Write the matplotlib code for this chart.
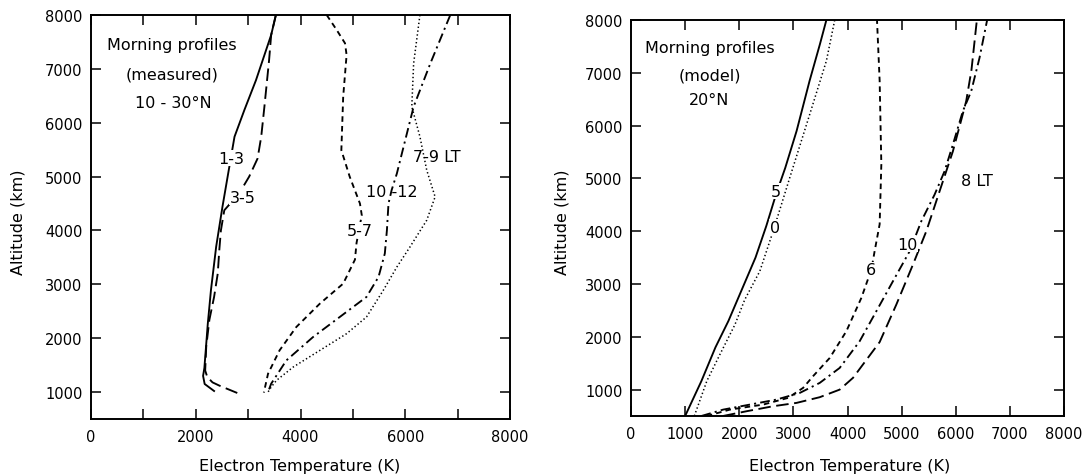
import matplotlib
matplotlib.use("Agg")
import matplotlib.pyplot as plt

plt.rcParams['font.family'] = ['DejaVu Sans']
plt.rcParams['lines.scale_dashes'] = False

# ---------------- Left panel: measured profiles (10-30N) ----------------
alt_13 = [8000, 7630, 6790, 6240, 5740, 5120, 4440, 3700, 2890, 2270, 1450, 1300, 1150, 1020]
te_13 = [3530, 3440, 3150, 2930, 2740, 2630, 2510, 2390, 2290, 2230, 2165, 2140, 2170, 2350]

alt_35 = [8000, 7630, 7160, 6290, 5740, 5335, 5000, 4690, 4375, 4000, 3640, 3200, 2765, 2340,
          1840, 1400, 1280, 1180, 1120, 980]
te_35 = [3530, 3440, 3400, 3310, 3250, 3180, 3020, 2830, 2545, 2480, 2450, 2420, 2350, 2260,
         2200, 2180, 2220, 2320, 2450, 2800]

alt_57 = [8000, 7724, 7475, 7258, 6483, 5490, 4997, 4500, 4283, 3768, 3459, 3013, 2642, 2208,
          1774, 1340, 990]
te_57 = [4500, 4690, 4850, 4880, 4815, 4780, 4940, 5135, 5170, 5070, 5040, 4815, 4370, 3920,
         3600, 3380, 3300]

alt_1012 = [8000, 7103, 6298, 5679, 5058, 4749, 4500, 4006, 3572, 3138, 2766, 2394, 2022, 1588,
            1155, 1000]
te_1012 = [6860, 6480, 6160, 6000, 5840, 5740, 5680, 5650, 5610, 5490, 5260, 4750, 4240, 3730,
           3440, 3380]

alt_79 = [8000, 7100, 6298, 5741, 5120, 4624, 4190, 3694, 3322, 2888, 2394, 2084, 1774, 1464,
          1216, 1093, 1000]
te_79 = [6280, 6160, 6125, 6280, 6410, 6570, 6410, 6090, 5840, 5580, 5260, 4880, 4370, 3860,
         3540, 3440, 3380]

# ---------------- Right panel: model profiles (20N) ----------------
alt_m5 = [500, 1160, 1800, 2300, 2900, 3500, 4100, 4700, 5200, 5900, 6850, 7540, 8000]
te_m5 = [1000, 1300, 1560, 1800, 2050, 2300, 2500, 2680, 2850, 3060, 3300, 3490, 3610]

alt_m0 = [500, 1160, 1660, 2230, 2700, 3243, 4000, 5016, 6216, 7226, 8000]
te_m0 = [1170, 1400, 1640, 1920, 2100, 2380, 2626, 2934, 3303, 3610, 3764]

alt_m6 = [500, 621, 716, 843, 1032, 1254, 1600, 2106, 2737, 3273, 3626, 4132, 5268, 6847, 8000]
te_m6 = [1400, 1827, 2441, 2902, 3179, 3364, 3672, 3979, 4256, 4441, 4502, 4594, 4625, 4594, 4545]

alt_m10 = [500, 621, 704, 811, 937, 1127, 1411, 1917, 2485, 3053, 3620, 4188, 4693, 5135, 5640,
           6273, 6652, 7283, 8000]
te_m10 = [1300, 1703, 2134, 2688, 3118, 3487, 3856, 4225, 4533, 4840, 5148, 5363, 5609, 5793,
          5947, 6131, 6286, 6439, 6580]

alt_m8 = [500, 590, 685, 748, 856, 1000, 1223, 1900, 2610, 3367, 4000, 4756, 5513, 6100, 6463,
          7050, 8000]
te_m8 = [1700, 2134, 2626, 3057, 3487, 3856, 4102, 4594, 4902, 5209, 5456, 5701, 5947, 6100,
         6193, 6290, 6390]

left_xticks = [0, 1000, 2000, 3000, 4000, 5000, 6000, 7000, 8000]
left_xlabels = ['0', '', '2000', '', '4000', '', '6000', '', '8000']
right_xticks = [0, 1000, 2000, 3000, 4000, 5000, 6000, 7000, 8000]
right_xlabels = ['0', '1000', '2000', '3000', '4000', '5000', '6000', '7000', '8000']
yticks = [1000, 2000, 3000, 4000, 5000, 6000, 7000, 8000]
ylabels = ['1000', '2000', '3000', '4000', '5000', '6000', '7000', '8000']

W, H = 1088, 477
fig = plt.figure(figsize=(W / 100, H / 100), dpi=100)

def px_axes(l, t, r, b):
    return fig.add_axes([l / W, 1 - b / H, (r - l) / W, (b - t) / H])

axL = px_axes(91, 16, 510, 420)
axR = px_axes(631, 21, 1064, 417)

LW = 1.35
solid = dict(color='black', lw=LW, ls='-')
longdash = dict(color='black', lw=LW, dashes=(9, 4))
shortdash = dict(color='black', lw=LW, dashes=(4, 3))
dashdot = dict(color='black', lw=LW, dashes=(7, 3, 1.5, 3))
dotted = dict(color='black', lw=1.1, dashes=(1, 1.8))

axL.plot(te_13, alt_13, **solid)
axL.plot(te_35, alt_35, **longdash)
axL.plot(te_57, alt_57, **shortdash)
axL.plot(te_1012, alt_1012, **dashdot)
axL.plot(te_79, alt_79, **dotted)

axR.plot(te_m5, alt_m5, **solid)
axR.plot(te_m0, alt_m0, **dotted)
axR.plot(te_m6, alt_m6, **shortdash)
axR.plot(te_m10, alt_m10, **dashdot)
axR.plot(te_m8, alt_m8, **longdash)

for ax in (axL, axR):
    ax.set_xlim(0, 8000)
    ax.set_ylim(500, 8000)
    ax.set_yticks(yticks)
    ax.set_yticklabels(ylabels)
    ax.tick_params(axis='both', direction='in', length=7, width=1.1,
                   top=True, right=True, labelsize=10.5)
    ax.tick_params(axis='x', pad=7)
    ax.tick_params(axis='y', pad=6)
    for s in ax.spines.values():
        s.set_linewidth(1.4)

axL.set_xticks(left_xticks)
axL.set_xticklabels(left_xlabels)
axR.set_xticks(right_xticks)
axR.set_xticklabels(right_xlabels)

lab = dict(fontsize=11.5, ha='center', va='center')
bb = dict(facecolor='white', edgecolor='none', pad=0.3)

# Left panel titles / labels
axL.text(1550, 7455, 'Morning profiles', **lab)
axL.text(1550, 6900, '(measured)', **lab)
axL.text(1580, 6380, '10 - 30°N', **lab)
axL.text(2680, 5340, '1-3', bbox=bb, **lab)
axL.text(2900, 4620, '3-5', bbox=bb, **lab)
axL.text(5135, 4000, '5-7', bbox=bb, **lab)
axL.text(5740, 4720, '10 -12', **lab)
axL.text(6600, 5370, '7-9 LT', **lab)

# Right panel titles / labels
axR.text(1450, 7470, 'Morning profiles', **lab)
axR.text(1450, 6950, '(model)', **lab)
axR.text(1450, 6500, '20°N', **lab)
axR.text(2675, 4760, '5', bbox=bb, **lab)
axR.text(2657, 4076, '0', bbox=bb, **lab)
axR.text(4441, 3273, '6', bbox=bb, **lab)
axR.text(5100, 3750, '10', bbox=bb, **lab)
axR.text(6400, 4960, '8 LT', **lab)

# Axis titles
fig.text(18.5 / W, 1 - 222 / H, 'Altitude (km)', rotation=90, fontsize=11.5,
         ha='center', va='center')
fig.text(562 / W, 1 - 222 / H, 'Altitude (km)', rotation=90, fontsize=11.5,
         ha='center', va='center')
fig.text(300 / W, 1 - 467 / H, 'Electron Temperature (K)', fontsize=11.5,
         ha='center', va='center')
fig.text(850 / W, 1 - 467 / H, 'Electron Temperature (K)', fontsize=11.5,
         ha='center', va='center')

fig.savefig('out.png', dpi=100)
